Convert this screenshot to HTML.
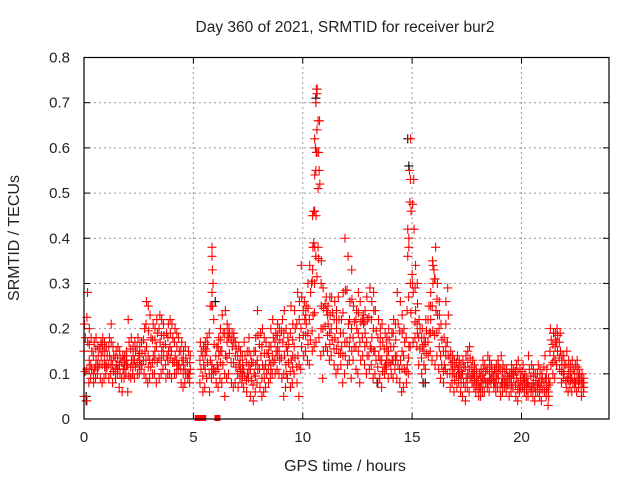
<!DOCTYPE html>
<html><head><meta charset="utf-8"><style>
html,body{margin:0;padding:0;background:#fff}
svg{display:block;font-family:"Liberation Sans",sans-serif}
</style></head><body>
<svg id="chart" width="640" height="480" viewBox="0 0 640 480">
<rect width="640" height="480" fill="#fff"/>
<text x="345" y="32" font-size="15.5" text-anchor="middle" fill="#222">Day 360 of 2021, SRMTID for receiver bur2</text>
<text x="345" y="471" font-size="16" text-anchor="middle" fill="#222">GPS time / hours</text>
<text transform="translate(19,238) rotate(-90)" font-size="16" text-anchor="middle" fill="#222">SRMTID / TECUs</text>
<g id="grid"></g>
<g id="ticks"></g>
<g id="marks"></g>
<rect x="84" y="57.5" width="525" height="361.5" fill="none" stroke="#000" stroke-width="1.2"/>
</svg>
<script>
const xTicks=[0,5,10,15,20];
const yTicks=[0,0.1,0.2,0.3,0.4,0.5,0.6,0.7,0.8];
const yTickLabels=["0","0.1","0.2","0.3","0.4","0.5","0.6","0.7","0.8"];
const segStart=[0,5.3];
const segCount=[49,176];
const lo=[.05,.04,.08,.09,.08,.09,.10,.09,.08,.09,.10,.09,.10,.08,.09,.10,.07,.06,.09,.10,.06,.09,.10,.09,.10,.10,.11,.10,.09,.08,.09,.10,.10,.08,.09,.10,.11,.09,.10,.10,.09,.10,.10,.11,.08,.07,.08,.09,.08,
.08,.06,.07,.09,.06,.09,.10,.08,.07,.09,
.08,.05,.09,.10,.08,.07,.08,.07,.09,.08,
.07,.06,.09,.05,.04,.06,.08,.07,.05,.06,
.07,.08,.09,.10,.10,.11,.10,.09,.05,.07,
.09,.07,.08,.10,.08,.05,.11,.14,.15,.13,
.12,.15,.16,.17,.18,.14,.09,.16,.15,.13,
.14,.12,.10,.11,.12,.08,.10,.12,.13,.09,
.13,.11,.10,.08,.14,.12,.10,.11,.12,.09,
.10,.08,.09,.07,.10,.11,.09,.10,.09,.11,
.09,.08,.06,.07,.08,.10,.16,.17,.18,.16,
.12,.10,.08,.11,.14,.15,.13,.12,.14,.11,
.09,.08,.11,.10,.07,.08,.06,.07,.08,.06,
.05,.04,.07,.06,.08,.07,.06,.05,.05,.06,
.06,.07,.06,.08,.07,.06,.07,.05,.06,.07,
.06,.05,.06,.07,.05,.04,.06,.07,.06,.05,
.05,.06,.05,.04,.06,.05,.04,.06,.05,.03,
.08,.10,.09,.12,.11,.08,.09,.07,.06,.07,
.06,.07,.06,.07,.05,.06];
const mid=[.15,.17,.13,.12,.11,.13,.12,.14,.15,.13,.12,.14,.13,.12,.12,.11,.12,.11,.12,.13,.12,.13,.12,.13,.14,.13,.12,.15,.16,.14,.13,.14,.15,.16,.17,.15,.16,.14,.15,.16,.15,.14,.13,.12,.13,.12,.11,.10,.11,
.13,.12,.14,.15,.13,.12,.11,.12,.14,.15,
.15,.14,.17,.18,.16,.17,.14,.12,.11,.10,
.11,.10,.12,.11,.10,.12,.13,.14,.12,.11,
.12,.13,.12,.14,.15,.16,.15,.17,.14,.12,
.15,.13,.14,.16,.14,.18,.20,.22,.21,.19,
.22,.23,.30,.45,.52,.25,.20,.24,.21,.19,
.20,.18,.20,.17,.16,.19,.17,.21,.18,.20,
.18,.20,.19,.17,.21,.19,.17,.16,.18,.20,
.15,.14,.16,.13,.12,.14,.15,.13,.16,.14,
.14,.13,.15,.14,.12,.16,.30,.42,.24,.21,
.18,.16,.15,.17,.19,.22,.25,.24,.23,.20,
.14,.12,.16,.17,.12,.11,.10,.11,.10,.09,
.10,.09,.10,.11,.10,.09,.08,.07,.08,.09,
.09,.08,.10,.09,.08,.09,.10,.08,.09,.08,
.08,.09,.08,.10,.09,.08,.07,.09,.08,.07,
.08,.07,.08,.07,.08,.07,.08,.09,.07,.06,
.15,.14,.16,.17,.15,.12,.10,.09,.10,.09,
.09,.08,.10,.09,.08,.07];
const hi=[.21,.28,.20,.18,.17,.18,.16,.17,.18,.17,.16,.18,.21,.16,.15,.16,.15,.14,.14,.15,.22,.18,.16,.17,.18,.16,.17,.20,.26,.25,.23,.21,.20,.22,.23,.22,.21,.19,.21,.22,.21,.20,.19,.18,.17,.15,.16,.15,.14,
.17,.16,.17,.18,.25,.38,.22,.16,.18,.20,
.23,.24,.21,.20,.19,.19,.17,.16,.15,.14,
.17,.15,.18,.14,.15,.18,.24,.19,.20,.18,
.17,.16,.20,.22,.19,.21,.20,.22,.24,.20,
.18,.25,.21,.24,.28,.26,.34,.26,.25,.30,
.34,.38,.62,.73,.66,.35,.29,.27,.25,.27,
.27,.26,.24,.27,.22,.28,.40,.36,.26,.33,
.25,.24,.28,.26,.23,.24,.27,.29,.26,.28,
.24,.22,.20,.21,.19,.18,.20,.19,.22,.21,
.28,.26,.23,.20,.24,.38,.62,.53,.34,.30,
.22,.20,.18,.22,.25,.28,.35,.38,.30,.26,
.21,.18,.26,.29,.15,.14,.13,.14,.13,.12,
.13,.14,.15,.16,.13,.12,.11,.10,.11,.13,
.12,.14,.13,.12,.11,.12,.13,.14,.12,.11,
.11,.10,.12,.11,.12,.13,.11,.12,.10,.09,
.14,.12,.11,.10,.12,.11,.10,.14,.11,.09,
.20,.19,.19,.20,.19,.14,.14,.15,.13,.12,
.13,.12,.13,.11,.10,.09];
const spikeHours=[10.45,10.5,10.55,10.6,10.62,10.58,10.65,10.7,10.6,10.65,10.5,10.55,10.6,10.7,10.75,10.7,10.45,10.4,14.8,14.85,14.9,14.92,14.88,14.8,15.0,15.05,5.85,5.87,5.9,5.85,5.88,15.95,16.0,16.05];
const spikeVals=[.45,.46,.54,.55,.59,.60,.64,.66,.70,.72,.39,.38,.36,.51,.55,.38,.33,.30,.42,.40,.48,.53,.55,.36,.32,.28,.36,.33,.30,.28,.25,.34,.33,.31];
const blackHours=[0.1,0.1,6.0,10.6,10.65,13.4,14.8,14.85,15.5,15.6];
const blackVals=[0.04,0.05,0.26,0.71,0.73,0.08,0.62,0.56,0.08,0.08];
const zeroHours=[5.2,5.45,6.1];

const NS="http://www.w3.org/2000/svg";
const X0=84,X1=609,Y0=419,Y1=57.5,XMAX=24,YMAX=0.8;
function sx(h){return X0+(X1-X0)*h/XMAX;}
function sy(v){return Y0-(Y0-Y1)*v/YMAX;}
const grid=document.getElementById('grid'),ticks=document.getElementById('ticks'),marks=document.getElementById('marks');
function mk(tag,attrs,parent){const e=document.createElementNS(NS,tag);for(const k in attrs)e.setAttribute(k,attrs[k]);parent.appendChild(e);return e;}
xTicks.forEach(t=>{
  const x=sx(t);
  if(t>0){const g=mk('line',{x1:x,x2:x,y1:Y0,y2:Y1,stroke:'#999','stroke-dasharray':'2,3'},grid);
  
  }
  mk('line',{x1:x,x2:x,y1:Y0,y2:Y0-6,stroke:'#000'},ticks);
  mk('line',{x1:x,x2:x,y1:Y1,y2:Y1+6,stroke:'#000'},ticks);
  const l=mk('text',{x:x,y:442,'font-size':15,'text-anchor':'middle',fill:'#222'},ticks);
  l.textContent=t;
  
  
});
yTicks.forEach((t,i)=>{
  const y=sy(t);
  if(i>0&&i<yTicks.length-1){const g=mk('line',{x1:X0,x2:X1,y1:y,y2:y,stroke:'#999','stroke-dasharray':'2,3'},grid);
  
  }
  mk('line',{x1:X0,x2:X0+6,y1:y,y2:y,stroke:'#000'},ticks);
  mk('line',{x1:X1,x2:X1-6,y1:y,y2:y,stroke:'#000'},ticks);
  const l=mk('text',{x:70,y:y+5,'font-size':15,'text-anchor':'end',fill:'#222'},ticks);
  l.textContent=yTickLabels[i];
  
  
});
function cross(h,v,col){
  const x=sx(h),y=sy(v);
  const p=mk('path',{d:`M${x-4.5},${y}H${x+4.5}M${x},${y-4.5}V${y+4.5}`,stroke:col,'stroke-width':1.1,fill:'none'},marks);
  
  
}
blackHours.forEach((h,i)=>cross(h,blackVals[i],'#000'));
let idx=0;
segStart.forEach((s,si)=>{
  for(let k=0;k<segCount[si];k++){
    const h=s+k*0.1;
    const j=((k*7)%10)*0.01;
    cross(h+j*0.5,lo[idx],'#f00');
    cross(h+0.05-j*0.3,(lo[idx]+mid[idx])/2+0.005,'#f00');
    cross(h+j,mid[idx],'#f00');
    cross(h+0.06-j*0.4,(mid[idx]+hi[idx])/2,'#f00');
    cross(h+0.02+j*0.6,hi[idx],'#f00');
    idx++;
  }
});
spikeHours.forEach((h,i)=>cross(h,spikeVals[i],'#f00'));
zeroHours.forEach(h=>{
  const r=mk('rect',{x:sx(h)-3,y:Y0-4,width:6,height:6,fill:'#f00'},marks);
  
  
});
</script>
</body></html>
